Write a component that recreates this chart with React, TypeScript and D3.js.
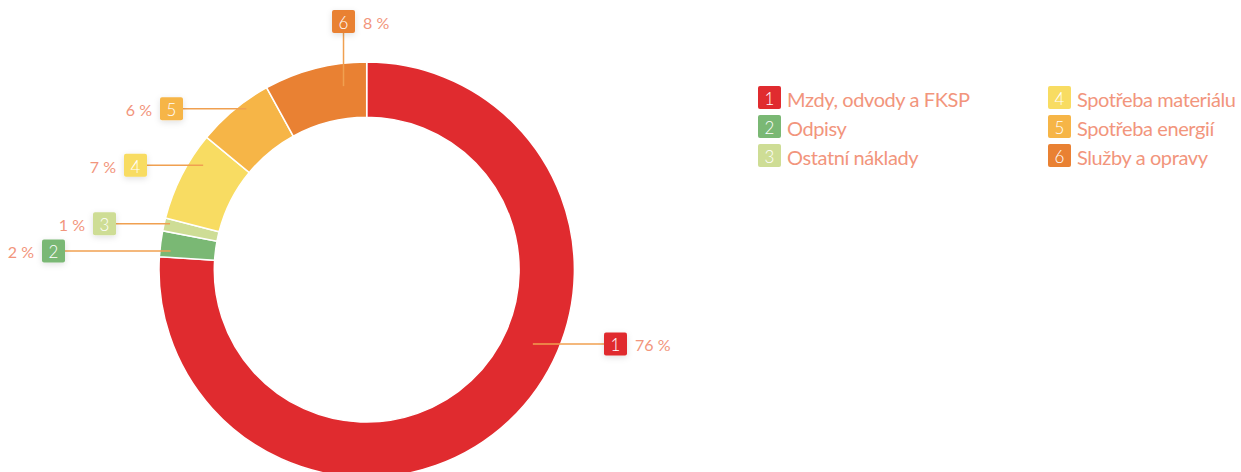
import React from 'react'
import * as d3 from 'd3'

// cost breakdown (share in %)
const ids = [1, 2, 3, 4, 5, 6]
const names = [
  'Mzdy, odvody a FKSP',
  'Odpisy',
  'Ostatní náklady',
  'Spotřeba materiálu',
  'Spotřeba energií',
  'Služby a opravy',
]
const shares = [76, 2, 1, 7, 6, 8]
const colors = ['#e02b2f', '#7ab874', '#cedd95', '#f8dc62', '#f6b547', '#e98133']

// label placement: where the leader hits the slice (t = fraction along the slice) and where the box sits
const labelLayout = [
  { dir: 'h', t: 0.417, r: 182, box: 604, side: 'right' },
  { dir: 'h', t: 0.26, r: 197, box: 42, side: 'left' },
  { dir: 'h', t: 0.66, r: 202, box: 93, side: 'left' },
  { dir: 'h', t: 0.72, r: 194, box: 124, side: 'left' },
  { dir: 'h', t: 0.63, r: 201, box: 160, side: 'left' },
  { dir: 'v', t: 0.75, r: 185, box: 10, side: 'right' },
]

const W = 1241
const H = 472
const cx = 366.7
const cy = 269.7
const outerR = 207.7
const innerR = 152.4
const boxSize = 23
const textColor = '#f2957c'
const lineColor = '#f0a050'
const font = 'Lato, sans-serif'

export default function App() {
  const pie = d3.pie<number>().sort(null).value(d => d)
  const arcs = pie(shares)
  const arc = d3.arc<d3.PieArcDatum<number>>().innerRadius(innerR).outerRadius(outerR)

  const legendX = d3.scaleOrdinal<number, number>().domain([0, 1]).range([758, 1048])
  const legendY = d3.scaleLinear().domain([0, 2]).range([86, 144])

  return (
    <svg width={W} height={H} style={{ position: 'absolute', left: 0, top: 0, display: 'block' }}>
      <defs>
        <filter id="shadow" x="-60%" y="-60%" width="220%" height="220%">
          <feDropShadow dx="0" dy="2" stdDeviation="3" floodColor="#000" floodOpacity="0.12" />
        </filter>
      </defs>
      <g transform={`translate(${cx},${cy})`}>
        {arcs.map((a, i) => (
          <path key={i} d={arc(a) || ''} fill={colors[i]} stroke="#fff" strokeWidth={1.5} />
        ))}
      </g>

      {arcs.map((a, i) => {
        const L = labelLayout[i]
        const ang = a.startAngle + L.t * (a.endAngle - a.startAngle)
        const px = cx + L.r * Math.sin(ang)
        const py = cy - L.r * Math.cos(ang)
        let bx: number, by: number, x1: number, y1: number
        if (L.dir === 'h') {
          by = py - boxSize / 2
          bx = L.box
          x1 = L.side === 'left' ? bx + boxSize : bx
          y1 = py
        } else {
          bx = px - boxSize / 2
          by = L.box
          x1 = px
          y1 = by + boxSize
        }
        const tx = L.side === 'left' ? bx - 8 : bx + boxSize + 8
        return (
          <g key={i}>
            <line x1={x1} y1={y1} x2={px} y2={py} stroke={lineColor} strokeWidth={1.5} />
            <rect x={bx} y={by} width={boxSize} height={boxSize} rx={2} fill={colors[i]} filter="url(#shadow)" />
            <text x={bx + boxSize / 2} y={by + boxSize / 2 + 1} textAnchor="middle" dominantBaseline="central"
              fill="#fff" fontFamily={font} fontWeight={300} fontSize={17}>{ids[i]}</text>
            <text x={tx} y={by + boxSize / 2 + 1} textAnchor={L.side === 'left' ? 'end' : 'start'} dominantBaseline="central"
              fill={textColor} fontFamily={font} fontSize={16}>{`${shares[i]} %`}</text>
          </g>
        )
      })}

      {names.map((n, i) => {
        const col = Math.floor(i / 3)
        const row = i % 3
        const x = legendX(col)
        const y = legendY(row)
        return (
          <g key={n}>
            <rect x={x} y={y} width={boxSize} height={boxSize} rx={2} fill={colors[i]} />
            <text x={x + boxSize / 2} y={y + boxSize / 2 + 1} textAnchor="middle" dominantBaseline="central"
              fill="#fff" fontFamily={font} fontWeight={300} fontSize={17}>{ids[i]}</text>
            <text x={x + boxSize + 6} y={y + boxSize / 2 + 1} dominantBaseline="central"
              fill={textColor} fontFamily={font} fontSize={20} letterSpacing={-0.4}>{n}</text>
          </g>
        )
      })}
    </svg>
  )
}
